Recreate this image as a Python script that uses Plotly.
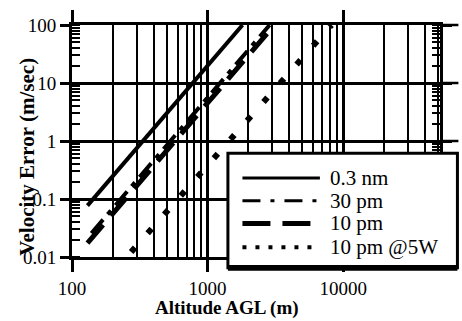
import math
import plotly.graph_objects as go

# ---- data ----
alt_03nm = [130, 1810]
vel_03nm = [0.077, 100]
alt_30pm = [139, 2870]
vel_30pm = [0.0256, 100]
alt_10pm = [130, 3110]
vel_10pm = [0.0173, 100]
alt_10pm5w = [273, 8210]
vel_10pm5w = [0.0122, 100]

series_names = ["0.3 nm", "30 pm", "10 pm", "10 pm @5W"]
x_tickvals = [100, 1000, 10000]
x_ticktext = ["100", "1000", "10000"]
y_tickvals = [0.01, 0.1, 1, 10, 100]
y_ticktext = ["0.01", "0.1", "1", "10", "100"]
x_title = "Altitude AGL (m)"
y_title = "Velocity Error (m/sec)"

# ---- styling ----
FONT = "'Liberation Serif', 'Times New Roman', serif"
W, H = 462, 321
L, R, T, B = 72, 10, 22, 64
PW, PH = W - L - R, H - T - B

def px_x(p):
    return (p - L) / PW

def px_y(p):
    return (H - B - p) / PH

xs_all = [alt_03nm, alt_30pm, alt_10pm, alt_10pm5w]
ys_all = [vel_03nm, vel_30pm, vel_10pm, vel_10pm5w]
dashes = ["solid", "18px,7px,5px,7px", "24px,12px", "6px,19px"]
widths = [4, 4, 5, 6]

fig = go.Figure()
for name, xs, ys, d, w in zip(series_names, xs_all, ys_all, dashes, widths):
    fig.add_trace(go.Scatter(x=xs, y=ys, mode="lines", name=name,
                             line=dict(color="black", width=w, dash=d),
                             showlegend=False))

axis_common = dict(
    type="log", showline=True, linecolor="black", linewidth=3,
    mirror="ticks", ticks="outside", tickcolor="black", tickwidth=2.5,
    showgrid=True, gridcolor="black", gridwidth=2.5,
    tickfont=dict(family=FONT, size=19, color="black"),
)

fig.update_xaxes(**axis_common, range=[2, math.log10(51800)],
                 tickmode="array", tickvals=x_tickvals, ticktext=x_ticktext,
                 ticklen=12,
                 minor=dict(dtick="D1", showgrid=True, gridcolor="black",
                            gridwidth=2, ticks=""))
fig.update_yaxes(**axis_common, range=[-2, 2],
                 tickmode="array", tickvals=y_tickvals, ticktext=y_ticktext,
                 ticklen=9,
                 minor=dict(dtick="D1", ticks="inside", ticklen=8,
                            tickwidth=2, tickcolor="black", showgrid=False))

shapes = []
# horizontal grid stubs beyond the right frame
for yv in [0.25, 0.5, 0.75, 1.0]:
    shapes.append(dict(type="line", xref="paper", yref="paper",
                       x0=1, x1=1.05, y0=yv, y1=yv,
                       line=dict(color="black", width=2.5), layer="above"))
# legend box
shapes.append(dict(type="rect", xref="paper", yref="paper",
                   x0=px_x(233), x1=px_x(470), y0=px_y(268), y1=px_y(152),
                   fillcolor="white", line=dict(color="black", width=3),
                   layer="above"))
shapes.append(dict(type="rect", xref="paper", yref="paper",
                   x0=px_x(233), x1=px_x(470), y0=px_y(271), y1=px_y(265),
                   fillcolor="black", line=dict(width=0), layer="above"))

leg_rows = [177, 200, 223, 247]
leg_dash = ["solid", "18px,10px,4px,10px", "28px,12px", "4px,9px"]
leg_w = [3, 3, 5, 4]
annotations = []
for name, row, d, w in zip(series_names, leg_rows, leg_dash, leg_w):
    shapes.append(dict(type="line", xref="paper", yref="paper",
                       x0=px_x(248), x1=px_x(328), y0=px_y(row), y1=px_y(row),
                       line=dict(color="black", width=w, dash=d), layer="above"))
    annotations.append(dict(xref="paper", yref="paper", x=px_x(336), y=px_y(row),
                            xanchor="left", yanchor="middle", showarrow=False,
                            text=name, font=dict(family=FONT, size=21, color="black")))

annotations.append(dict(xref="paper", yref="paper", x=px_x(232), y=px_y(309),
                        xanchor="center", yanchor="middle", showarrow=False,
                        text="<b>" + x_title + "</b>",
                        font=dict(family=FONT, size=19, color="black")))
annotations.append(dict(xref="paper", yref="paper", x=px_x(26), y=px_y(155),
                        xanchor="center", yanchor="middle", showarrow=False,
                        textangle=-90, text="<b>" + y_title + "</b>",
                        font=dict(family=FONT, size=21, color="black")))

fig.update_layout(
    width=W, height=H,
    margin=dict(l=L, r=R, t=T, b=B),
    paper_bgcolor="white", plot_bgcolor="white",
    showlegend=False,
    shapes=shapes, annotations=annotations,
)

fig.write_html("out.html")
